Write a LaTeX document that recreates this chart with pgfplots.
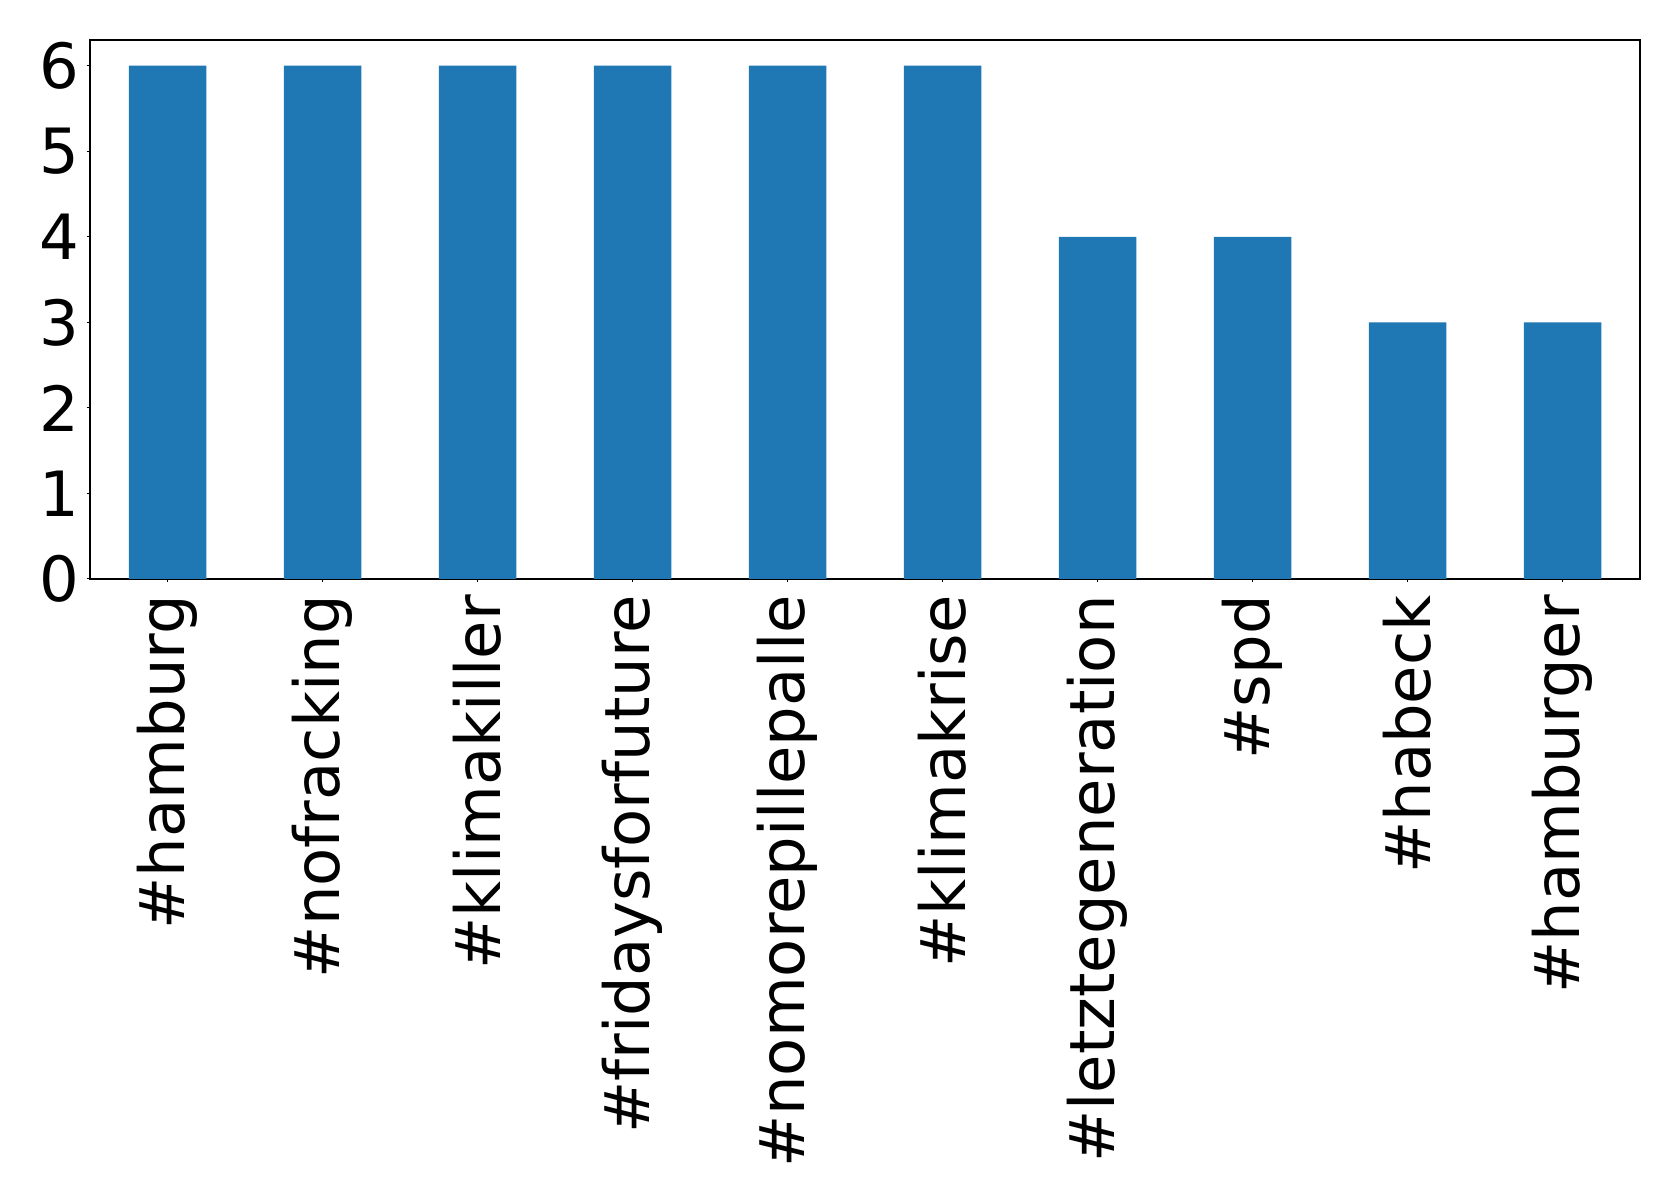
\documentclass[border=0pt]{standalone}
\usepackage{pgfplots}
\pgfplotsset{compat=1.18}
\usepackage{fontspec}
\setmainfont{DejaVu Sans}
\definecolor{barblue}{HTML}{1F77B4}
\begin{document}
\fontsize{31.2pt}{37pt}\selectfont
\begin{tikzpicture}
\path[use as bounding box] (-45pt,-311.5pt) rectangle (794.5pt,289.5pt);
\begin{axis}[
  at={(0,0)}, anchor=south west,
  scale only axis,
  width=775pt, height=269.5pt,
  xmin=-0.5, xmax=9.5, ymin=0, ymax=6.3,
  xtick={0,...,9},
  xticklabels={\#hamburg,\#nofracking,\#klimakiller,\#fridaysforfuture,\#nomorepillepalle,\#klimakrise,\#letztegeneration,\#spd,\#habeck,\#hamburger},
  ytick={0,1,2,3,4,5,6},
  tick align=outside,
  major tick length=1.75pt,
  tick style={black, line width=0.5pt},
  axis line style={line width=0.6pt},
  xtick pos=bottom, ytick pos=left,
  /pgf/number format/assume math mode=true,
  ticklabel style={font=\fontsize{31.2pt}{37pt}\selectfont},
  xticklabel style={rotate=90, anchor=east, inner xsep=6.2pt, inner ysep=0pt},
  yticklabel style={anchor=east, inner xsep=3.2pt, inner ysep=0pt},
  ybar, bar width=0.5, bar shift=0pt,
  clip=false,
]
\addplot[fill=barblue, draw=none] coordinates {(0,6) (1,6) (2,6) (3,6) (4,6) (5,6) (6,4) (7,4) (8,3) (9,3)};
\end{axis}
\end{tikzpicture}
\end{document}
